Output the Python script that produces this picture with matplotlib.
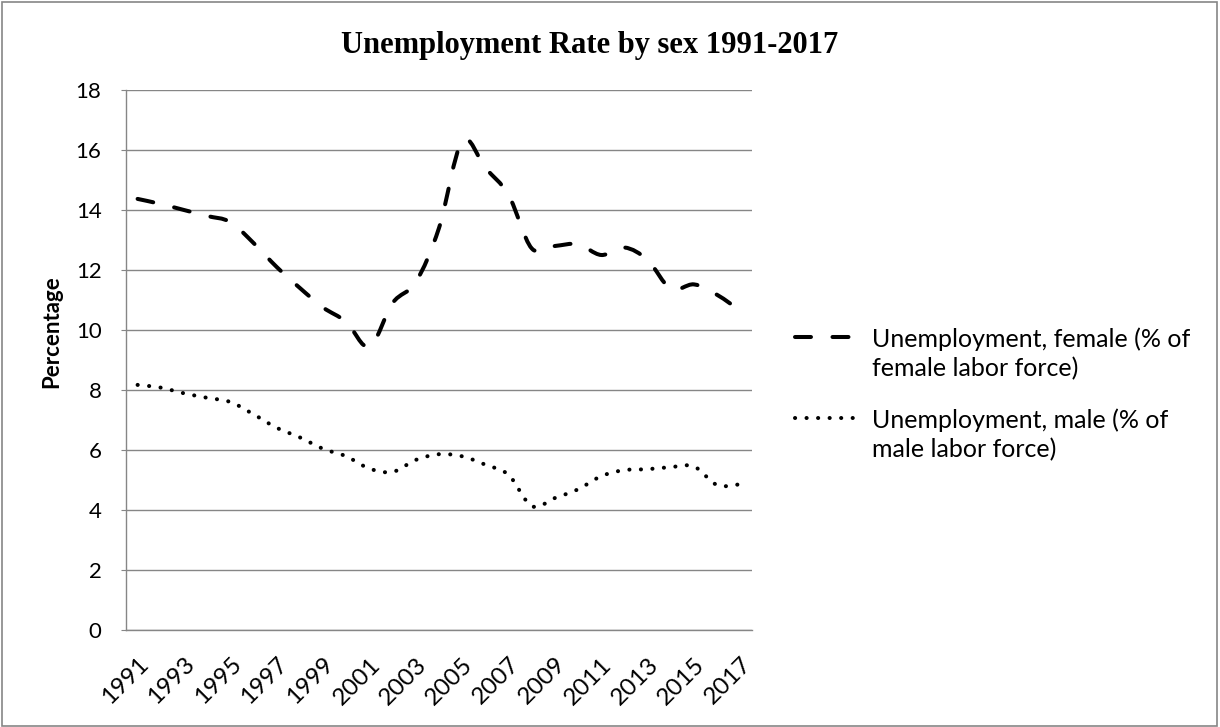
import matplotlib
matplotlib.use("Agg")
import matplotlib.pyplot as plt
from matplotlib.path import Path
from matplotlib.patches import PathPatch, Rectangle
from matplotlib.lines import Line2D
import numpy as np

years = list(range(1991, 2018))
female = [14.37, 14.2, 14.0, 13.8, 13.6, 12.9, 12.1, 11.4, 10.75, 10.27,
          9.44, 10.9, 11.6, 13.4, 16.3, 15.4, 14.5, 12.72, 12.8, 12.86,
          12.5, 12.75, 12.33, 11.37, 11.52, 11.17, 10.64]
male = [8.17, 8.08, 7.89, 7.74, 7.6, 7.19, 6.74, 6.42, 6.04, 5.79,
        5.38, 5.27, 5.67, 5.86, 5.79, 5.51, 5.17, 4.13, 4.4, 4.69,
        5.13, 5.33, 5.36, 5.43, 5.45, 4.83, 4.86]
tick_years = list(range(1991, 2018, 2))
y_ticks = list(range(0, 19, 2))
title = "Unemployment Rate by sex 1991-2017"
female_label = "Unemployment, female (% of\nfemale labor force)"
male_label = "Unemployment, male (% of\nmale labor force)"

plt.rcParams['lines.scale_dashes'] = False
W, H = 1220, 727
fig = plt.figure(figsize=(W / 100, H / 100), dpi=100)
ax = fig.add_axes([126 / W, 1 - 630 / H, 626 / W, 540 / H])

GRID = "#868686"


def smooth_path(xs, ys):
    """Catmull-Rom style Bezier path through the points."""
    p = np.column_stack([xs, ys]).astype(float)
    ext = np.vstack([p[0], p, p[-1]])
    verts = [tuple(p[0])]
    codes = [Path.MOVETO]
    for i in range(len(p) - 1):
        p0, p1, p2, p3 = ext[i], ext[i + 1], ext[i + 2], ext[i + 3]
        c1 = p1 + (p2 - p0) / 6.0
        c2 = p2 - (p3 - p1) / 6.0
        verts += [tuple(c1), tuple(c2), tuple(p2)]
        codes += [Path.CURVE4] * 3
    return Path(verts, codes)


lw = 2.9
dash_style = (0, (11.5, 15.5))
dot_style = (0, (0.1, 8.2))

for vals, ls in ((female, dash_style), (male, dot_style)):
    patch = PathPatch(smooth_path(years, vals), fill=False, edgecolor="black",
                      linewidth=lw, linestyle=ls, capstyle="round",
                      joinstyle="round", zorder=3)
    ax.add_patch(patch)

ax.set_xlim(1990.5, 2017.5)
ax.set_ylim(0, 18)
ax.set_yticks(y_ticks)
ax.set_xticks(tick_years)
ax.set_xticklabels([str(y) for y in tick_years])
ax.grid(axis="y", color=GRID, linewidth=1.0)
ax.set_axisbelow(True)
for s in ("top", "right"):
    ax.spines[s].set_visible(False)
for s in ("left", "bottom"):
    ax.spines[s].set_color(GRID)
    ax.spines[s].set_linewidth(1.0)

font = "Lato"
ax.tick_params(axis="y", length=3.6, color=GRID, pad=14, labelsize=16)
ax.tick_params(axis="x", length=0, pad=17, labelsize=17.5)
for lab in ax.get_yticklabels():
    lab.set_fontfamily(font)
for lab in ax.get_xticklabels():
    lab.set_fontfamily(font)
    lab.set_rotation(45)
    lab.set_ha("right")
    lab.set_va("top")
    lab.set_rotation_mode("anchor")

fig.text(52 / W, 1 - 332 / H, "Percentage", rotation=90, ha="center",
         va="center", fontsize=16, fontweight="bold", family=font)
fig.text(590 / W, 1 - 45 / H, title, ha="center", va="center", fontsize=22,
         fontweight="bold", family="Liberation Serif")

# legend drawn beside the axes
for (ly, ls, label) in ((337, dash_style, female_label),
                        (418, dot_style, male_label)):
    fig.add_artist(Line2D([795 / W, 857 / W], [1 - ly / H, 1 - ly / H],
                          transform=fig.transFigure, color="black",
                          linewidth=lw, linestyle=ls,
                          dash_capstyle="round", solid_capstyle="round"))
    fig.text(872 / W, 1 - (ly + 17) / H, label, ha="left", va="center",
             fontsize=18, family=font, linespacing=1.3)

fig.add_artist(Rectangle((1.5 / W, 1.5 / H), (W - 5) / W, (H - 3.5) / H,
                         transform=fig.transFigure, fill=False,
                         edgecolor=GRID, linewidth=1.2))

fig.savefig("out.png", dpi=100)
